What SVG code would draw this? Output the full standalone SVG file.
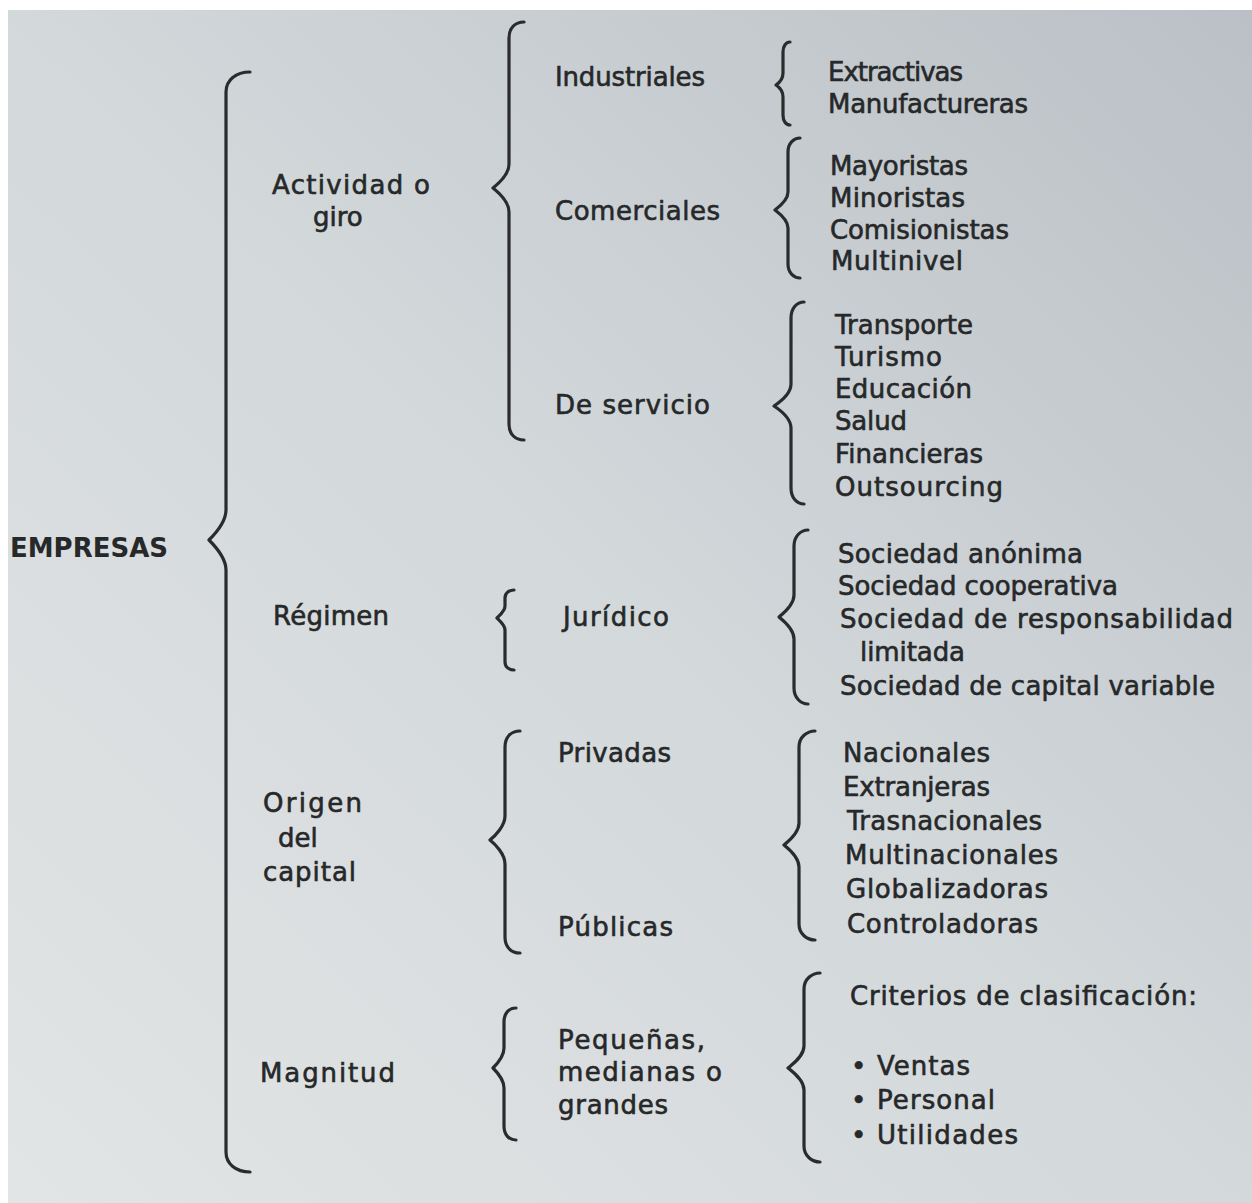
<svg xmlns="http://www.w3.org/2000/svg" width="1252" height="1203" viewBox="0 0 1252 1203">
  <defs>
    <linearGradient id="paper" x1="1" y1="0" x2="0" y2="1">
      <stop offset="0" stop-color="#bac0c5"/>
      <stop offset="0.5" stop-color="#d3d8db"/>
      <stop offset="1" stop-color="#e2e5e5"/>
    </linearGradient>
    <style>
      .t { font-family: "DejaVu Sans", "Noto Sans", sans-serif; font-size: 26px; font-weight: 400; fill: #262829; stroke: #262829; stroke-width: 0.6px; }
      .root { font-weight: 700; stroke-width: 0; }
      .brace { fill: none; stroke: #292b2d; stroke-width: 3.2; stroke-linecap: round; stroke-linejoin: round; }
    </style>
  </defs>

  <!-- page -->
  <rect x="0" y="0" width="1252" height="1203" fill="#ffffff"/>
  <rect x="8" y="10" width="1244" height="1193" fill="url(#paper)"/>

  <!-- braces -->
  <g id="connectors">
    <path class="brace" d="M250,72 C236,72 226,80 226,92 L226,510 C226,522 214,535 209,540 C214,545 226,558 226,570 L226,1152 C226,1164 236,1172 250,1172"/>
    <path class="brace" d="M524,22 C515,22 509,28 509,38 L509,164 C509,174 498,184 493,188 C498,192 509,202 509,212 L509,424 C509,434 515,440 524,440"/>
    <path class="brace" d="M514,590 C509,590 505,593 505,598 L505,606 C505,611 500,615 497,618 C500,621 505,625 505,630 L505,662 C505,667 509,670 514,670"/>
    <path class="brace" d="M520,731 C511,731 505,737 505,747 L505,816 C505,826 495,836 490,840 C495,844 505,854 505,864 L505,937 C505,947 511,953 520,953"/>
    <path class="brace" d="M516,1008 C509,1008 504,1013 504,1022 L504,1048 C504,1057 497,1064 493,1068 C497,1072 504,1079 504,1088 L504,1126 C504,1135 509,1140 516,1140"/>
    <path class="brace" d="M790,42 C786,42 783,46 783,52 L783,73 C783,79 779,83 776,85 C779,87 783,91 783,97 L783,115 C783,121 786,125 790,125"/>
    <path class="brace" d="M800,138 C794,138 788,143 788,152 L788,192 C788,200 779,207 775,210 C779,213 788,220 788,228 L788,264 C788,273 794,278 800,278"/>
    <path class="brace" d="M804,302 C797,302 791,308 791,318 L791,384 C791,394 780,402 774,406 C780,410 791,418 791,428 L791,488 C791,498 797,504 804,504"/>
    <path class="brace" d="M808,530 C801,530 794,536 794,546 L794,595 C794,605 784,613 779,617 C784,621 794,629 794,639 L794,688 C794,698 801,704 808,704"/>
    <path class="brace" d="M815,731 C807,731 799,737 799,747 L799,823 C799,833 789,841 784,845 C789,849 799,857 799,867 L799,924 C799,934 807,940 815,940"/>
    <path class="brace" d="M820,973 C812,973 804,979 804,989 L804,1046 C804,1056 793,1064 788,1068 C793,1072 804,1080 804,1090 L804,1146 C804,1156 812,1162 820,1162"/>
  </g>

  <!-- root -->
  <g id="empresas"><text class="t root" x="10" y="557" textLength="158">EMPRESAS</text></g>

  <!-- first level -->
  <g id="actividad">
    <text class="t" x="272" y="194" textLength="158">Actividad o</text>
    <text class="t" x="313" y="226">giro</text>
  </g>
  <g id="regimen"><text class="t" x="273" y="625" textLength="116">Régimen</text></g>
  <g id="origen">
    <text class="t" x="263" y="812" textLength="99">Origen</text>
    <text class="t" x="278" y="847">del</text>
    <text class="t" x="263" y="881" textLength="93">capital</text>
  </g>
  <g id="magnitud"><text class="t" x="260" y="1082" textLength="135">Magnitud</text></g>

  <!-- second level -->
  <g id="industriales"><text class="t" x="555" y="86" textLength="150">Industriales</text></g>
  <g id="comerciales"><text class="t" x="555" y="220" textLength="165">Comerciales</text></g>
  <g id="servicio"><text class="t" x="555" y="414" textLength="155">De servicio</text></g>
  <g id="juridico"><text class="t" x="563" y="626" textLength="106">Jurídico</text></g>
  <g id="privadas"><text class="t" x="558" y="762" textLength="113">Privadas</text></g>
  <g id="publicas"><text class="t" x="558" y="936" textLength="115">Públicas</text></g>
  <g id="tamano">
    <text class="t" x="558" y="1049" textLength="147">Pequeñas,</text>
    <text class="t" x="558" y="1081" textLength="164">medianas o</text>
    <text class="t" x="558" y="1114" textLength="110">grandes</text>
  </g>

  <!-- third level -->
  <g id="tipos-industriales">
    <text class="t" x="828" y="81" textLength="135">Extractivas</text>
    <text class="t" x="828" y="113" textLength="200">Manufactureras</text>
  </g>
  <g id="tipos-comerciales">
    <text class="t" x="830" y="175" textLength="138">Mayoristas</text>
    <text class="t" x="830" y="207" textLength="135">Minoristas</text>
    <text class="t" x="830" y="239" textLength="179">Comisionistas</text>
    <text class="t" x="831" y="270" textLength="132">Multinivel</text>
  </g>
  <g id="tipos-servicio">
    <text class="t" x="835" y="334" textLength="138">Transporte</text>
    <text class="t" x="835" y="366" textLength="107">Turismo</text>
    <text class="t" x="835" y="398" textLength="137">Educación</text>
    <text class="t" x="835" y="430" textLength="72">Salud</text>
    <text class="t" x="835" y="463" textLength="148">Financieras</text>
    <text class="t" x="835" y="496" textLength="168">Outsourcing</text>
  </g>
  <g id="tipos-juridico">
    <text class="t" x="838" y="563" textLength="245">Sociedad anónima</text>
    <text class="t" x="838" y="595" textLength="280">Sociedad cooperativa</text>
    <text class="t" x="840" y="628" textLength="393">Sociedad de responsabilidad</text>
    <text class="t" x="860" y="661" textLength="105">limitada</text>
    <text class="t" x="840" y="695" textLength="375">Sociedad de capital variable</text>
  </g>
  <g id="tipos-capital">
    <text class="t" x="843" y="762" textLength="147">Nacionales</text>
    <text class="t" x="843" y="796" textLength="147">Extranjeras</text>
    <text class="t" x="847" y="830" textLength="195">Trasnacionales</text>
    <text class="t" x="845" y="864" textLength="213">Multinacionales</text>
    <text class="t" x="846" y="898" textLength="202">Globalizadoras</text>
    <text class="t" x="847" y="933" textLength="191">Controladoras</text>
  </g>
  <g id="criterios">
    <text class="t" x="850" y="1005" textLength="347">Criterios de clasificación:</text>
    <text class="t" x="851" y="1075">•</text>
    <text class="t" x="877" y="1075" textLength="93">Ventas</text>
    <text class="t" x="851" y="1109">•</text>
    <text class="t" x="877" y="1109" textLength="118">Personal</text>
    <text class="t" x="851" y="1144">•</text>
    <text class="t" x="877" y="1144" textLength="141">Utilidades</text>
  </g>
</svg>
